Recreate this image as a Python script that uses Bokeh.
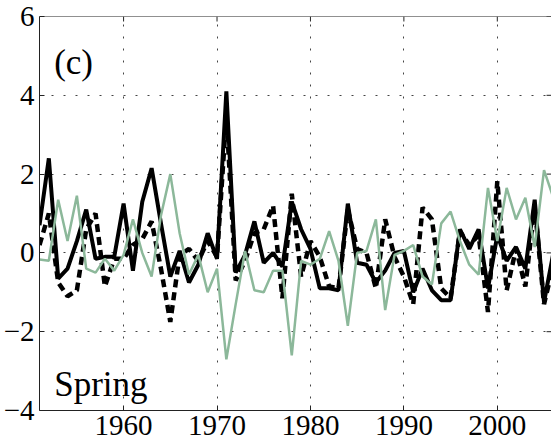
from bokeh.plotting import figure
from bokeh.models import Range1d, FixedTicker, Span
from bokeh.embed import file_html
from bokeh.resources import INLINE

# Spring anomalies, 1951-2006
years = list(range(1951, 2007))

solid_vals = [
    0.7, 2.4, -0.65, -0.4, 0.3, 1.1, -0.15, -0.1, -0.1, 1.25,
    -0.45, 1.3, 2.15, 0.75, -0.6, 0.05, -0.75, -0.3, 0.5, -0.15,
    4.1, -0.5, -0.05, 0.8, -0.25, 0.0, -0.35, 1.3, 0.6, 0.1,
    -0.9, -0.9, -0.95, 1.25, -0.25, -0.3, -0.75, -0.45, 0.0, 0.05,
    -1.0, -0.4, -0.95, -1.2, -1.2, 0.6, 0.1, 0.6, -0.9, 0.45,
    -0.2, 0.15, -0.4, 1.35, -1.25, 0.0,
]

dashed_vals = [
    0.2, 1.0, -0.75, -1.1, -0.95, 0.6, 1.0, -0.85, -0.15, -0.15,
    0.2, 0.35, 0.8, -0.4, -1.75, -0.05, 0.1, -0.2, 0.3, -0.1,
    3.5, -0.7, -0.2, 0.5, 0.6, 1.2, -1.15, 1.5, -0.6, 0.3,
    -0.1, -0.85, -0.9, 1.1, 0.1, 0.0, -0.9, 0.85, -0.1, -0.6,
    -1.3, 1.15, 0.85, -0.9, -1.15, 0.55, 0.2, 0.45, -1.5, 1.82,
    -0.95, 0.1, -0.85, 1.2, -1.3, -0.3,
]

green_vals = [
    -0.17, -0.2, 1.35, 0.3, 1.45, -0.4, -0.5, -0.15, -0.45, -0.05,
    0.85, 0.0, -0.6, 0.95, 2.0, 0.5, -0.55, -0.05, -1.0, -0.4,
    -2.7, -1.3, 0.05, -0.95, -1.0, -0.45, -0.45, -2.6, -0.2, -0.3,
    -0.15, 0.55, -0.2, -1.85, 0.0, 0.05, 0.85, -1.45, -0.05, 0.05,
    0.2, -0.6, -0.8, 0.75, 1.05, 0.3, -0.3, -0.55, 1.65, 0.3,
    1.65, 0.85, 1.4, 0.15, 2.1, 1.4,
]

x_ticks = [1960, 1970, 1980, 1990, 2000]
y_ticks = [-4, -2, 0, 2, 4, 6]
y_tick_labels = {-4: "\u22124", -2: "\u22122", 0: "0", 2: "2", 4: "4", 6: "6"}

X_START, X_END = 1951, 2005.8
Y_START, Y_END = -4, 6

SERIF = "Liberation Serif"
AXIS_COLOR = "#222222"

p = figure(
    width=551, height=448,
    output_backend="svg", toolbar_location=None,
    x_range=Range1d(X_START, X_END), y_range=Range1d(Y_START, Y_END),
    min_border_left=37, min_border_right=0,
    min_border_top=16, min_border_bottom=38,
    background_fill_color="white", border_fill_color="white",
)
p.outline_line_color = None

# dotted grid at the major ticks
p.xgrid.ticker = FixedTicker(ticks=x_ticks)
p.ygrid.ticker = FixedTicker(ticks=y_ticks)
for g in (p.xgrid, p.ygrid):
    g.grid_line_color = "#444444"
    g.grid_line_dash = "2 10"
    g.grid_line_width = 1

for ax, ticks in ((p.xaxis[0], x_ticks), (p.yaxis[0], y_ticks)):
    ax.ticker = FixedTicker(ticks=ticks)
    ax.minor_tick_line_color = None
    ax.major_tick_in = 5
    ax.major_tick_out = 0
    ax.major_tick_line_color = AXIS_COLOR
    ax.axis_line_color = AXIS_COLOR
    ax.major_label_text_font = SERIF
    ax.major_label_text_font_size = "29px"
    ax.major_label_text_color = "black"
    ax.major_label_standoff = 5
p.yaxis[0].major_label_overrides = y_tick_labels

# top edge of the box, with inward ticks on the top and right sides
p.add_layout(Span(location=Y_END, dimension="width",
                  line_color=AXIS_COLOR, line_width=1))
tick_dy = (Y_END - Y_START) * 5 / 394
tick_dx = (X_END - X_START) * 5 / 514
p.segment(x0=x_ticks, y0=[Y_END] * len(x_ticks),
          x1=x_ticks, y1=[Y_END - tick_dy] * len(x_ticks),
          line_color=AXIS_COLOR, line_width=1)
p.segment(x0=[X_END] * len(y_ticks), y0=y_ticks,
          x1=[X_END - tick_dx] * len(y_ticks), y1=y_ticks,
          line_color=AXIS_COLOR, line_width=1)

# series
p.line(years, solid_vals, line_color="black", line_width=4)
p.line(years, dashed_vals, line_color="black", line_width=4.5, line_dash="8 5")
p.line(years, green_vals, line_color="#8cb89a", line_width=2.5)

p.text(x=[1952.57], y=[4.82], text=["(c)"], text_font={"value": SERIF},
       text_font_size="35px", text_color="black", text_baseline="alphabetic")
p.text(x=[1952.57], y=[-3.33], text=["Spring"], text_font={"value": SERIF},
       text_font_size="35px", text_color="black", text_baseline="alphabetic")

open("out.html", "w").write(file_html(p, INLINE))
